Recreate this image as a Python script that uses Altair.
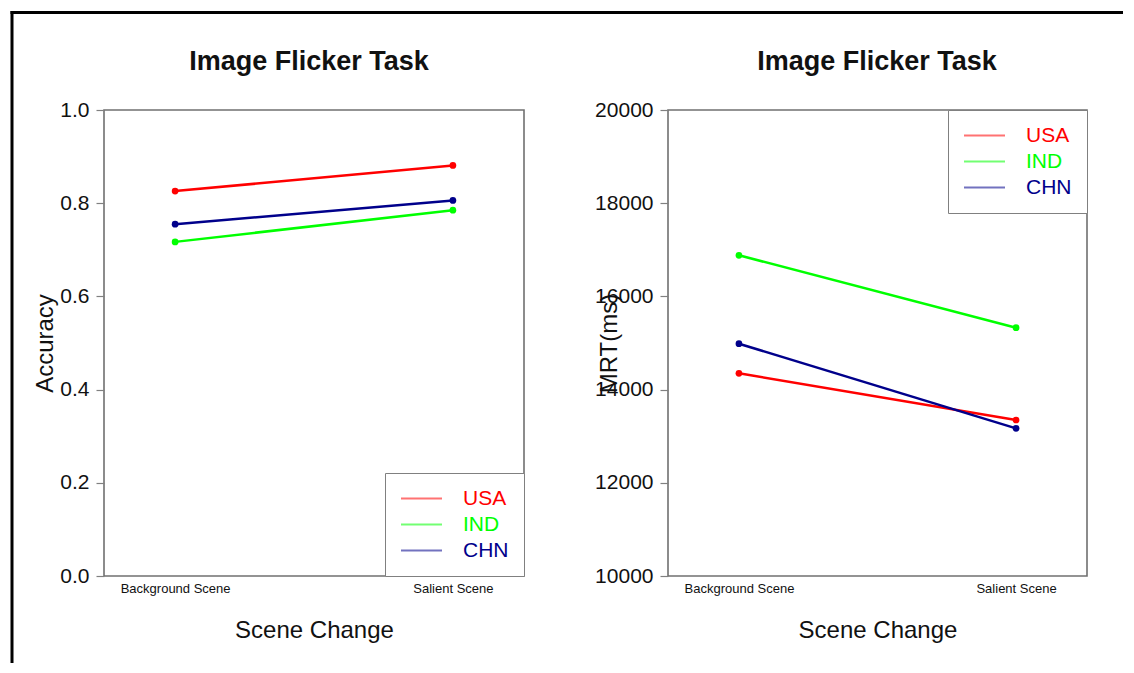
import altair as alt
import pandas as pd

# ---- data ----
scenes = ["Background Scene", "Salient Scene"]
countries = ["USA", "IND", "CHN"]
colors = ["#FF0000", "#00FF00", "#00008B"]

acc_usa = [0.826, 0.881]
acc_ind = [0.717, 0.785]
acc_chn = [0.755, 0.806]

mrt_usa = [14350, 13348]
mrt_ind = [16882, 15328]
mrt_chn = [14985, 13169]

acc_ticks = [0.0, 0.2, 0.4, 0.6, 0.8, 1.0]
mrt_ticks = [10000, 12000, 14000, 16000, 18000, 20000]

title_text = "Image Flicker Task"
x_title = "Scene Change"

acc = {"USA": acc_usa, "IND": acc_ind, "CHN": acc_chn}
mrt = {"USA": mrt_usa, "IND": mrt_ind, "CHN": mrt_chn}
rows = []
for c in countries:
    for i, s in enumerate(scenes):
        rows.append({"scene": s, "country": c, "acc": acc[c][i], "mrt": mrt[c][i]})
df = pd.DataFrame(rows)

FONT = "Liberation Sans"
GRAY = "#808080"
BOX = "#707070"
TEXT = "#111111"

label_color_expr = "'" + colors[-1] + "'"
for c, col in reversed(list(zip(countries[:-1], colors[:-1]))):
    label_color_expr = f"datum.label === '{c}' ? '{col}' : ({label_color_expr})"


def panel(field, ytitle, domain, ticks, fmt, legend_orient, width, title_x, frame=False):
    color = alt.Color(
        "country:N",
        sort=countries,
        scale=alt.Scale(domain=countries, range=colors),
        legend=alt.Legend(
            title=None,
            orient=legend_orient,
            offset=0,
            symbolType="stroke",
            symbolSize=1681,
            symbolStrokeWidth=2,
            symbolOpacity=0.55,
            clipHeight=21,
            labelFontSize=21,
            labelFont=FONT,
            labelOffset=20,
            padding=15,
            rowPadding=4,
            strokeColor=GRAY,
            fillColor="white",
            labelColor=alt.ExprRef(expr=label_color_expr),
        ),
    )
    x = alt.X(
        "scene:N",
        sort=scenes,
        scale=alt.Scale(type="point", padding=0.256),
        axis=alt.Axis(
            title=x_title,
            labelAngle=0,
            ticks=False,
            domain=False,
            labelFontSize=13,
            labelFont=FONT,
            labelColor=TEXT,
            labelPadding=6,
            titleFontSize=24,
            titleFont=FONT,
            titleFontWeight="normal",
            titleColor=TEXT,
            titlePadding=23,
        ),
    )
    y = alt.Y(
        f"{field}:Q",
        scale=alt.Scale(domain=domain, nice=False, zero=False),
        axis=alt.Axis(
            values=ticks,
            format=fmt,
            grid=False,
            domain=False,
            tickSize=8,
            tickColor=GRAY,
            tickWidth=1.2,
            labelFontSize=21,
            labelFont=FONT,
            labelColor=TEXT,
            labelPadding=7,
            title=ytitle,
            titleFontSize=24,
            titleFont=FONT,
            titleFontWeight="normal",
            titleColor=TEXT,
            titleAngle=-90,
            titleX=-59,
            titleY=233,
            titleAlign="center",
            titleBaseline="middle",
        ),
    )
    lines = alt.Chart(df).mark_line(
        strokeWidth=2.5, point=alt.OverlayMarkDef(filled=True, size=45)
    ).encode(x=x, y=y, color=color)

    title = alt.Chart(pd.DataFrame({"t": [title_text]})).mark_text(
        font=FONT, fontSize=27, fontWeight="bold", color=TEXT,
        align="center", baseline="middle",
    ).encode(text="t:N", x=alt.value(title_x), y=alt.value(-48))

    layers = [lines, title]
    if frame:
        one = pd.DataFrame({"k": [0]})
        vline = alt.Chart(one).mark_rule(color="black", strokeWidth=3).encode(
            x=alt.value(-92), y=alt.value(-99), y2=alt.value(553)
        )
        hline = alt.Chart(one).mark_rule(color="black", strokeWidth=3).encode(
            x=alt.value(-93.5), x2=alt.value(1019), y=alt.value(-97.5)
        )
        layers += [vline, hline]
    return alt.layer(*layers).properties(
        width=width,
        height=466,
        view=alt.ViewBackground(stroke=BOX, strokeWidth=1.6),
    )


left = panel("acc", "Accuracy", [0, 1], acc_ticks, ".1f", "bottom-right", 420, 205, frame=True)
right = panel("mrt", "MRT(ms)", [10000, 20000], mrt_ticks, "d", "top-right", 419, 209)

chart = (
    alt.hconcat(left, right, spacing=144, bounds="flush")
    .resolve_scale(color="independent", x="independent", y="independent")
    .resolve_legend(color="independent")
    .properties(padding=0)
    .configure_view(stroke=BOX, strokeWidth=1.6)
    .configure(background="white")
)

chart.save("out.html", embed_options={"renderer": "svg", "actions": False})
